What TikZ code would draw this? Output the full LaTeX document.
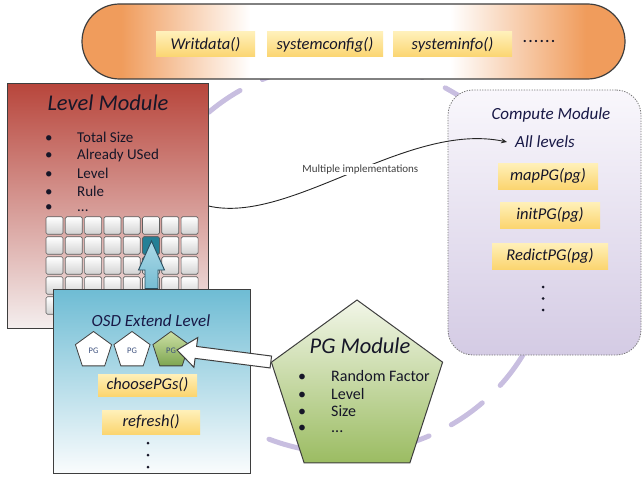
\documentclass[tikz,border=0pt]{standalone}
\usepackage{fontspec}
\setmainfont{Carlito}
\usetikzlibrary{shapes.geometric,calc,arrows.meta}
\definecolor{ellcol}{RGB}{200,190,224}
\definecolor{pillor}{RGB}{240,156,92}
\definecolor{fnTop}{RGB}{255,240,185}
\definecolor{fnBot}{RGB}{251,213,112}
\definecolor{lvTop}{RGB}{184,70,60}
\definecolor{lvBot}{RGB}{244,238,238}
\definecolor{osdTop}{RGB}{110,188,212}
\definecolor{osdBot}{RGB}{250,252,253}
\definecolor{pgTop}{RGB}{242,246,232}
\definecolor{pgBot}{RGB}{155,188,98}
\definecolor{cmTop}{RGB}{249,247,252}
\definecolor{cmBot}{RGB}{212,203,228}
\definecolor{edgecol}{RGB}{62,62,62}
\definecolor{txtcol}{RGB}{22,22,40}
\definecolor{navytxt}{RGB}{24,24,70}
\definecolor{cellEdge}{RGB}{95,95,95}
\definecolor{cellBot}{RGB}{210,210,210}
\definecolor{cellHi}{RGB}{36,128,150}
\definecolor{barTop}{RGB}{172,218,232}
\definecolor{barBot}{RGB}{118,188,210}
\definecolor{barEdge}{RGB}{40,78,96}
\definecolor{pgsTop}{RGB}{205,224,165}
\definecolor{pgsBot}{RGB}{125,165,80}
\definecolor{pgtxt}{RGB}{60,80,125}
\definecolor{cmEdge}{RGB}{120,120,120}
\pgfdeclarehorizontalshading{pillshade}{100bp}{color(0bp)=(pillor); color(28.6bp)=(pillor); color(40.5bp)=(white); color(58.9bp)=(white); color(71.4bp)=(pillor); color(100bp)=(pillor)}
\tikzset{
  fnbox/.style={top color=fnTop, bottom color=fnBot, draw=none, text=txtcol,
    font=\itshape\fontsize{16.5}{19}\selectfont, minimum height=25pt, inner sep=0pt},
  edgebox/.style={draw=edgecol, line width=1pt},
  bul/.style={anchor=west, text=txtcol, font=\fontsize{15}{17}\selectfont, inner sep=0pt},
  cellbox/.style={draw=cellEdge, line width=0.7pt, rounded corners=1.5pt, top color=white,
    bottom color=cellBot, minimum width=17pt, minimum height=17.5pt, inner sep=0pt},
  titletxt/.style={text=txtcol, font=\itshape\fontsize{22.5}{26}\selectfont, inner sep=0pt},
  subtitle/.style={text=navytxt, font=\itshape\fontsize{17}{20}\selectfont, inner sep=0pt},
  smallpg/.style={regular polygon, regular polygon sides=5, minimum size=38pt, inner sep=0pt,
    draw=edgecol, line width=0.8pt, text=pgtxt, font=\fontsize{8.5}{10}\selectfont},
  vdot/.style={fill=txtcol}
}
\begin{document}
\begin{tikzpicture}[x=1pt,y=-1pt]
\useasboundingbox (0,0) rectangle (644,476);
% dashed orbit
\draw[ellcol, line width=5pt, line cap=round, dash pattern=on 38pt off 25pt, dash phase=24pt]
  (345,258) ellipse [x radius=205, y radius=195];
% top pill
\node[edgebox, line width=1.2pt, shading=pillshade, rounded corners=37.5pt,
  minimum width=543pt, minimum height=75pt, inner sep=0pt] (pill) at (353.5,41.5) {};
\node[fnbox, minimum width=99pt] (wd) at (205.5,44.5) {Writdata()};
\node[fnbox, minimum width=116pt] (sc) at (325,44.5) {systemconfig()};
\node[fnbox, minimum width=119pt] (si) at (452.5,44.5) {systeminfo()};
\node[text=txtcol, font=\bfseries\fontsize{15}{16}\selectfont, inner sep=0pt] (more) at (539,41)
  {.\hspace{1.6pt}.\hspace{1.6pt}.\hspace{1.6pt}.\hspace{1.6pt}.\hspace{1.6pt}.};
% compute module
\node[draw=cmEdge, line width=0.8pt, dash pattern=on 1.3pt off 1.3pt, rounded corners=25pt,
  top color=cmTop, bottom color=cmBot, minimum width=193pt, minimum height=265pt, inner sep=0pt]
  (cm) at (544.5,222.5) {};
\node[subtitle] (cmt) at (551,115) {Compute Module};
\node[subtitle] (alllv) at (545,142) {All levels};
\node[fnbox, minimum width=100pt, minimum height=26pt] (map) at (548,176) {mapPG(pg)};
\node[fnbox, minimum width=100pt, minimum height=26pt] (init) at (550,215) {initPG(pg)};
\node[fnbox, minimum width=116pt, minimum height=26pt] (red) at (550,256) {RedictPG(pg)};
\fill[vdot] (543,287) circle (1.5) (543,298.5) circle (1.5) (543,310) circle (1.5);
% level module
\node[edgebox, top color=lvTop, bottom color=lvBot, minimum width=201pt, minimum height=244pt,
  inner sep=0pt] (lvl) at (107.5,206) {};
\node[titletxt] (lvt) at (108,103) {Level Module};
\node[bul] (lb1) at (45,137) {\makebox[32pt][l]{\textbullet}Total Size};
\node[bul] (lb2) at (45,155) {\makebox[32pt][l]{\textbullet}Already USed};
\node[bul] (lb3) at (45,173) {\makebox[32pt][l]{\textbullet}Level};
\node[bul] (lb4) at (45,191) {\makebox[32pt][l]{\textbullet}Rule};
\node[bul] (lb5) at (45,208) {\makebox[32pt][l]{\textbullet}...};
\foreach \i in {0,...,7}{
  \foreach \j in {0,...,4}{
    \node[cellbox] (cell-\i-\j) at ({54.5+19.3*\i},{225.5+20*\j}) {};
  }
}
\node[cellbox, fill=cellHi, top color=cellHi, bottom color=cellHi] (hi) at ({54.5+19.3*5},245.5) {};
% curved connector
\coordinate (ctip) at ($(alllv.west)+(-8,0)$);
\draw[black!85, line width=0.9pt, -{Stealth[length=6pt,width=5pt]}]
  (lvl.east) .. controls +(82,19) and +(-100,-21) .. (ctip)
  node[pos=0.53, fill=white, inner sep=1pt, text=black!75, font=\fontsize{11}{13}\selectfont] (mi) {Multiple implementations};
% OSD extend level
\node[edgebox, top color=osdTop, bottom color=osdBot, minimum width=197pt, minimum height=184pt,
  inner sep=0pt] (osd) at (151.5,381) {};
\coordinate (btip) at (151.5,241);
\draw[barEdge, line width=0.9pt, top color=barTop, bottom color=barBot]
  (btip) -- ($(btip)+(13,29)$) -- ($(btip)+(6.5,29)$) -- ($(btip |- osd.north)+(6.5,0)$)
  -- ($(btip |- osd.north)+(-6.5,0)$) -- ($(btip)+(-6.5,29)$) -- ($(btip)+(-13,29)$) -- cycle;
\node[subtitle, text=navytxt] (osdt) at (151,321) {OSD Extend Level};
\node[smallpg, fill=white] (pg1) at (93.5,350.5) {PG};
\node[smallpg, fill=white] (pg2) at (132,350.5) {PG};
\node[smallpg, top color=pgsTop, bottom color=pgsBot] (pg3) at (171,350.5) {PG};
\node[fnbox, minimum width=99pt, minimum height=22pt] (cpg) at (147.5,385) {choosePGs()};
\node[fnbox, minimum width=98pt, minimum height=24pt] (rf) at (151,422) {refresh()};
\fill[vdot] (148,443) circle (1.5) (148,455) circle (1.5) (148,467) circle (1.5);
% PG module
\node[regular polygon, regular polygon sides=5, minimum size=180pt, inner sep=0pt,
  edgebox, top color=pgTop, bottom color=pgBot] (pgm) at (357,390) {};
\node[titletxt] (pgt) at (360,346) {PG Module};
\node[bul, font=\fontsize{16}{18}\selectfont] (pb1) at (298,376) {\makebox[33pt][l]{\textbullet}Random Factor};
\node[bul, font=\fontsize{16}{18}\selectfont] (pb2) at (298,393.5) {\makebox[33pt][l]{\textbullet}Level};
\node[bul, font=\fontsize{16}{18}\selectfont] (pb3) at (298,411) {\makebox[33pt][l]{\textbullet}Size};
\node[bul, font=\fontsize{16}{18}\selectfont] (pb4) at (298,428.5) {\makebox[33pt][l]{\textbullet}...};
% white block arrow from PG module to third PG
\coordinate (wtip) at (177,350);
\coordinate (wtail) at (pgm.corner 2);
\coordinate (whb) at ($(wtip)!19pt!(wtail)$);
\draw[edgecol, line width=1pt, fill=white]
  (wtip) -- ($(whb)!15pt!90:(wtail)$) -- ($(whb)!6pt!90:(wtail)$)
  -- ($(wtail)!6pt!-90:(wtip)$) -- ($(wtail)!6pt!90:(wtip)$)
  -- ($(whb)!6pt!-90:(wtail)$) -- ($(whb)!15pt!-90:(wtail)$) -- cycle;
\end{tikzpicture}
\end{document}
